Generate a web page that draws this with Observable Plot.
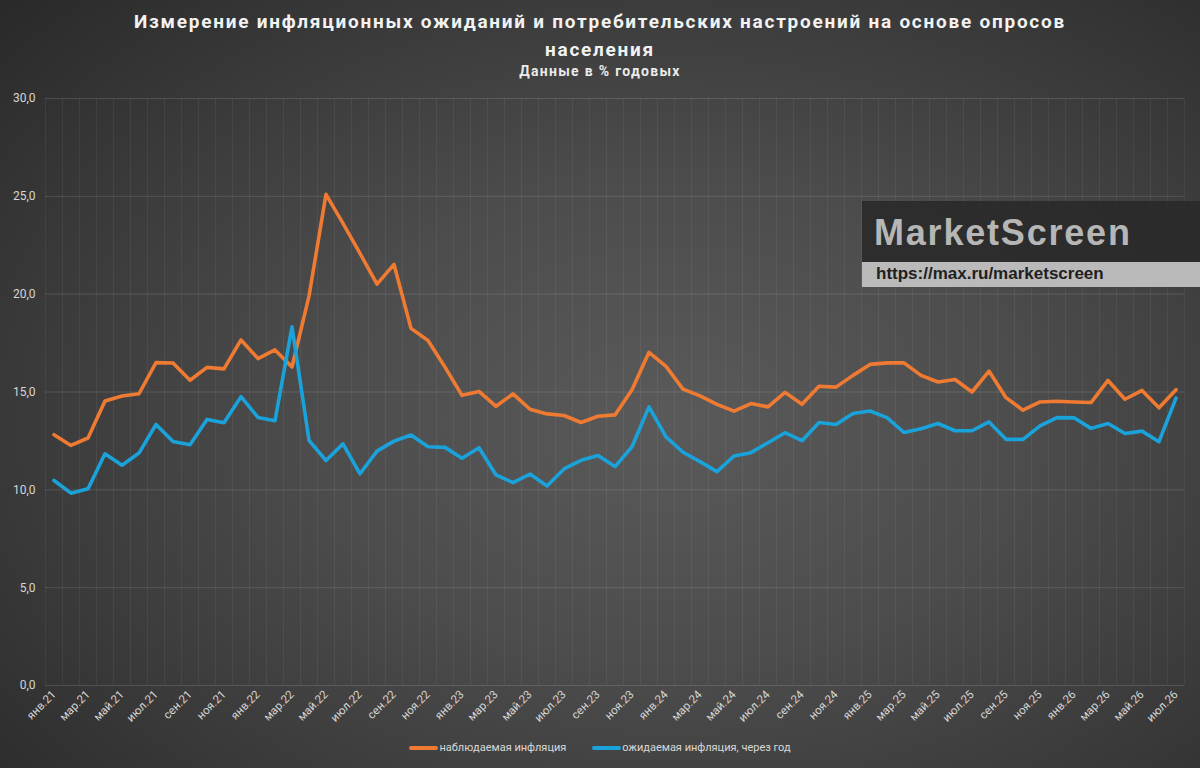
<!DOCTYPE html>
<html><head><meta charset="utf-8">
<script src="https://cdn.jsdelivr.net/npm/d3@7"></script>
<script src="https://cdn.jsdelivr.net/npm/@observablehq/plot@0.6"></script>
<style>
body{margin:0;background:#2b2b2b;}
#wrap{position:relative;width:1200px;height:768px;overflow:hidden;
 background:radial-gradient(ellipse 75% 80% at 56% 55%, #5a5a5a 0%, #4c4c4c 40%, #2a2a2a 100%);
 font-family:Roboto,"Noto Sans",sans-serif;}
#title{position:absolute;left:0;top:8px;width:1200px;text-align:center;color:#f2f2f2;font-weight:700;font-size:19px;letter-spacing:1.75px;line-height:28px;}
#sub{position:absolute;left:0;top:63px;width:1200px;text-align:center;color:#eaeaea;font-weight:700;font-size:14px;letter-spacing:1.3px;}
#chart{position:absolute;left:0;top:88px;}
#legend{position:absolute;left:0;top:741px;width:1200px;display:flex;justify-content:center;gap:26px;color:#d8d8d8;font-size:11px;}
#legend .it{display:flex;align-items:center;}
#legend .sw{display:inline-block;width:29px;height:4px;border-radius:2px;margin-right:1px;}
#wm1{position:absolute;left:862px;top:201px;width:338px;height:61px;background:rgba(40,40,40,0.85);}
#wm1 span{position:absolute;left:12px;top:11px;font-family:"Liberation Sans",Arial,sans-serif;font-weight:700;font-size:36px;letter-spacing:1.8px;color:#b6b6b6;}
#wm2{position:absolute;left:862px;top:262px;width:338px;height:25px;background:#bababa;}
#wm2 span{position:absolute;left:14px;top:2px;font-family:"Liberation Sans",Arial,sans-serif;font-weight:700;font-size:17px;color:#1f1f1f;}
</style></head><body>
<div id="wrap">
<div id="title">Измерение инфляционных ожиданий и потребительских настроений на основе опросов<br>населения</div>
<div id="sub">Данные в % годовых</div>
<div id="chart"></div>
<div id="wm1"><span>MarketScreen</span></div>
<div id="wm2"><span>https://max.ru/marketscreen</span></div>
<div id="legend"></div>
</div>
<script>
const months = [
 "янв.21","фев.21","мар.21","апр.21","май.21","июн.21","июл.21","авг.21","сен.21","окт.21","ноя.21","дек.21",
 "янв.22","фев.22","мар.22","апр.22","май.22","июн.22","июл.22","авг.22","сен.22","окт.22","ноя.22","дек.22",
 "янв.23","фев.23","мар.23","апр.23","май.23","июн.23","июл.23","авг.23","сен.23","окт.23","ноя.23","дек.23",
 "янв.24","фев.24","мар.24","апр.24","май.24","июн.24","июл.24","авг.24","сен.24","окт.24","ноя.24","дек.24",
 "янв.25","фев.25","мар.25","апр.25","май.25","июн.25","июл.25","авг.25","сен.25","окт.25","ноя.25","дек.25",
 "янв.26","фев.26","мар.26","апр.26","май.26","июн.26","июл.26"
];
const observed = [
 12.82,12.27,12.65,14.54,14.80,14.91,16.50,16.48,15.60,16.26,16.18,17.66,
 16.71,17.15,16.28,19.90,25.10,23.62,22.08,20.51,21.52,18.25,17.63,16.27,
 14.83,15.03,14.27,14.90,14.12,13.88,13.80,13.44,13.76,13.83,15.12,17.03,
 16.31,15.15,14.80,14.37,14.02,14.41,14.24,14.98,14.37,15.29,15.25,15.85,
 16.41,16.49,16.49,15.85,15.51,15.64,15.00,16.07,14.71,14.07,14.49,14.53,
 14.49,14.46,15.59,14.63,15.08,14.19,15.12
];
const expected = [
 10.48,9.83,10.05,11.84,11.26,11.88,13.34,12.47,12.30,13.60,13.43,14.76,
 13.70,13.53,18.33,12.53,11.50,12.35,10.82,11.98,12.49,12.80,12.20,12.17,
 11.61,12.15,10.76,10.37,10.81,10.20,11.07,11.51,11.75,11.19,12.20,14.24,
 12.71,11.92,11.44,10.93,11.73,11.90,12.41,12.92,12.51,13.44,13.34,13.90,
 14.03,13.69,12.93,13.12,13.39,13.02,13.02,13.47,12.58,12.58,13.27,13.69,
 13.68,13.14,13.39,12.88,13.00,12.46,14.69
];
const yTicks = [0,5,10,15,20,25,30];
const seriesNames = ["наблюдаемая инфляция","ожидаемая инфляция, через год"];
const seriesColors = ["#ef7a32","#1aa2da"];

const idx = months.map((m,i)=>i);
const xTicks = idx.filter(i => i % 2 === 0);
const bounds = months.map((m,i)=>i-0.5).concat([months.length-0.5]);
const obsData = observed.map((v,i)=>({i, v}));
const expData = expected.map((v,i)=>({i, v}));

const chart = Plot.plot({
  width: 1200,
  height: 650,
  marginTop: 10,
  marginBottom: 53,
  marginLeft: 45,
  marginRight: 16,
  style: {background: "transparent", color: "#d6d6d6", fontSize: "11.5px", fontFamily: "Roboto, 'Noto Sans', sans-serif", overflow: "visible"},
  x: {domain: [-0.5, months.length - 0.5]},
  y: {domain: [0, 30]},
  marks: [
    Plot.ruleX(bounds, {x: d => d, y1: 0, y2: 30, stroke: "#ffffff", strokeOpacity: 0.06}),
    Plot.ruleY(yTicks, {y: d => d, stroke: "#ffffff", strokeOpacity: 0.13}),
    Plot.axisY(yTicks, {tickSize: 0, tickPadding: 10, fontSize: 12, tickFormat: d => d.toFixed(1).replace(".", ","), label: null}),
    Plot.axisX(xTicks, {tickSize: 0, tickPadding: 7, tickRotate: -45, fontSize: 11.5, tickFormat: i => months[i], label: null}),
    Plot.line(obsData, {x: "i", y: "v", stroke: seriesColors[0], strokeWidth: 3.6, strokeLinejoin: "round"}),
    Plot.line(expData, {x: "i", y: "v", stroke: seriesColors[1], strokeWidth: 3.6, strokeLinejoin: "round"})
  ]
});
document.getElementById("chart").appendChild(chart);

const leg = document.getElementById("legend");
seriesNames.forEach((n,k)=>{
  const it = document.createElement("div"); it.className = "it";
  const sw = document.createElement("span"); sw.className = "sw"; sw.style.background = seriesColors[k];
  const t = document.createElement("span"); t.textContent = n;
  it.appendChild(sw); it.appendChild(t); leg.appendChild(it);
});
</script>
</body></html>
